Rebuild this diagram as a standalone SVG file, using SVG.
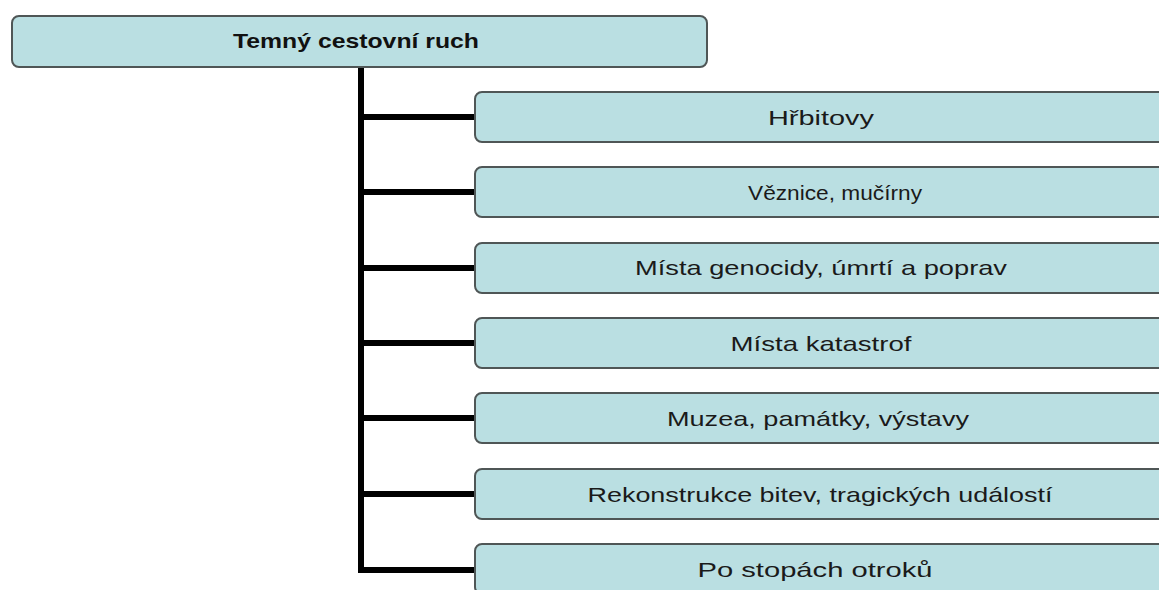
<svg xmlns="http://www.w3.org/2000/svg" width="1159" height="590" viewBox="0 0 1159 590">
<defs>
<style>
.box{fill:#BADFE2;stroke:#4f5656;stroke-width:2}
.lbl{font-family:"Liberation Sans",Arial,sans-serif;font-size:21px;fill:#1a1a1a;text-anchor:middle}
.ttl{font-family:"Liberation Sans",Arial,sans-serif;font-size:21px;font-weight:bold;fill:#111;text-anchor:middle}
.conn{fill:none;stroke:#000;stroke-width:6;stroke-linejoin:miter;stroke-linecap:butt}
</style>
</defs>
<rect width="1159" height="590" fill="#fff"/>
<g id="connectors">
<path class="conn" d="M361,67 V570 H476"/>
<path class="conn" d="M361,117 H476"/>
<path class="conn" d="M361,192 H476"/>
<path class="conn" d="M361,268 H476"/>
<path class="conn" d="M361,343 H476"/>
<path class="conn" d="M361,418 H476"/>
<path class="conn" d="M361,494 H476"/>
</g>
<g id="root">
<rect class="box" x="12" y="16" width="695" height="51" rx="7"/>
<text class="ttl" x="356" y="48" textLength="246" lengthAdjust="spacingAndGlyphs">Temný cestovní ruch</text>
</g>
<g id="n1">
<rect class="box" x="475" y="92" width="700" height="50" rx="7"/>
<text class="lbl" x="821" y="125" textLength="106" lengthAdjust="spacingAndGlyphs">Hřbitovy</text>
</g>
<g id="n2">
<rect class="box" x="475" y="167" width="700" height="50" rx="7"/>
<text class="lbl" x="835" y="200" textLength="174" lengthAdjust="spacingAndGlyphs">Věznice, mučírny</text>
</g>
<g id="n3">
<rect class="box" x="475" y="243" width="700" height="50" rx="7"/>
<text class="lbl" x="821" y="275" textLength="372" lengthAdjust="spacingAndGlyphs">Místa genocidy, úmrtí a poprav</text>
</g>
<g id="n4">
<rect class="box" x="475" y="318" width="700" height="50" rx="7"/>
<text class="lbl" x="821" y="351" textLength="181" lengthAdjust="spacingAndGlyphs">Místa katastrof</text>
</g>
<g id="n5">
<rect class="box" x="475" y="393" width="700" height="50" rx="7"/>
<text class="lbl" x="818" y="426" textLength="302" lengthAdjust="spacingAndGlyphs">Muzea, památky, výstavy</text>
</g>
<g id="n6">
<rect class="box" x="475" y="469" width="700" height="50" rx="7"/>
<text class="lbl" x="820" y="502" textLength="465" lengthAdjust="spacingAndGlyphs">Rekonstrukce bitev, tragických událostí</text>
</g>
<g id="n7">
<rect class="box" x="475" y="544" width="700" height="50" rx="7"/>
<text class="lbl" x="815" y="577" textLength="235" lengthAdjust="spacingAndGlyphs">Po stopách otroků</text>
</g>
</svg>
